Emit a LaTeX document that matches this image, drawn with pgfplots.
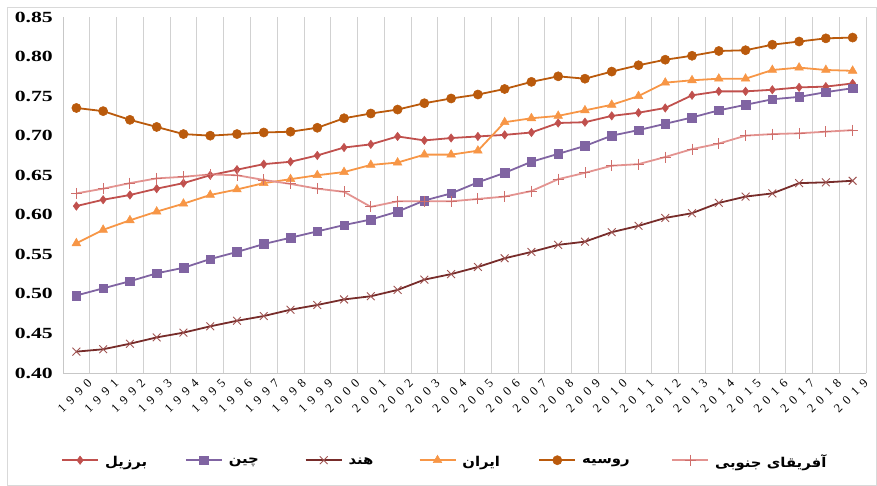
\documentclass[border=0pt]{standalone}
\usepackage{fontspec}
\setmainfont{Liberation Serif}
\newfontfamily\yfont[FakeStretch=1.4]{Liberation Serif}
\newfontfamily\arfont[Script=Arabic,FakeStretch=1.1]{DejaVu Sans}
\usepackage{pgfplots}
\usepackage{pgfplotstable}
\pgfplotsset{compat=1.18}
\TeXXeTstate=1
\definecolor{cbr}{HTML}{C0504D}
\definecolor{cch}{HTML}{8064A2}
\definecolor{cin}{HTML}{772C2A}
\definecolor{cinm}{HTML}{A05553}
\definecolor{cir}{HTML}{F79646}
\definecolor{cru}{HTML}{BA5A0C}
\definecolor{csa}{HTML}{E39390}
\definecolor{csam}{HTML}{CF6E6B}
\newcommand\legfont{\arfont\bfseries\fontsize{13.5}{16}\selectfont}
\newcommand\legent[2]{\makebox[#1pt][l]{\raisebox{-3pt}{\beginR #2\endR}}}
\newcommand\yr[4]{#1\kern5.8pt#2\kern5.8pt#3\kern5.8pt#4}
\pgfplotstableread{
x br ch in ir ru sa
0 0.611 0.498 0.427 0.564 0.735 0.627
1 0.619 0.507 0.430 0.581 0.731 0.633
2 0.625 0.516 0.437 0.593 0.720 0.640
3 0.633 0.526 0.445 0.604 0.711 0.646
4 0.640 0.533 0.451 0.614 0.702 0.648
5 0.650 0.544 0.459 0.625 0.700 0.651
6 0.657 0.553 0.466 0.632 0.702 0.650
7 0.664 0.563 0.472 0.640 0.704 0.644
8 0.667 0.571 0.480 0.645 0.705 0.639
9 0.675 0.579 0.486 0.650 0.710 0.633
10 0.685 0.587 0.493 0.654 0.722 0.629
11 0.689 0.594 0.497 0.663 0.728 0.610
12 0.699 0.604 0.505 0.666 0.733 0.617
13 0.694 0.618 0.518 0.676 0.741 0.617
14 0.697 0.627 0.525 0.676 0.747 0.617
15 0.699 0.641 0.534 0.681 0.752 0.620
16 0.701 0.653 0.545 0.717 0.759 0.623
17 0.704 0.667 0.553 0.722 0.768 0.630
18 0.716 0.677 0.562 0.725 0.775 0.645
19 0.717 0.687 0.566 0.732 0.772 0.653
20 0.725 0.700 0.578 0.739 0.781 0.662
21 0.729 0.707 0.586 0.750 0.789 0.664
22 0.735 0.715 0.596 0.767 0.796 0.673
23 0.751 0.723 0.602 0.770 0.801 0.683
24 0.756 0.732 0.615 0.772 0.807 0.690
25 0.756 0.739 0.623 0.772 0.808 0.700
26 0.758 0.746 0.627 0.783 0.815 0.702
27 0.761 0.749 0.640 0.786 0.819 0.703
28 0.762 0.755 0.641 0.783 0.823 0.705
29 0.766 0.760 0.643 0.782 0.824 0.707
}\datatable
\begin{document}
\begin{tikzpicture}
\path[use as bounding box] (0,0) rectangle (877pt,486pt);
\draw[black!15, line width=0.8pt] (7pt,0.5pt) rectangle (876.5pt,479pt);
\begin{axis}[
  at={(63pt,113pt)}, anchor=south west,
  scale only axis, width=803pt, height=356pt,
  xmin=-0.5, xmax=29.5, ymin=0.40, ymax=0.85,
  clip=false,
  axis x line*=bottom, axis y line*=left,
  axis line style={black!22, line width=0.8pt},
  xtick={0,...,29},
  xticklabels={\yr1990,\yr1991,\yr1992,\yr1993,\yr1994,\yr1995,\yr1996,\yr1997,\yr1998,\yr1999,\yr2000,\yr2001,\yr2002,\yr2003,\yr2004,\yr2005,\yr2006,\yr2007,\yr2008,\yr2009,\yr2010,\yr2011,\yr2012,\yr2013,\yr2014,\yr2015,\yr2016,\yr2017,\yr2018,\yr2019},
  minor xtick={-0.5,0.5,...,29.5},
  xminorgrids=true, xmajorgrids=false,
  minor x grid style={black!18, line width=0.8pt},
  major tick length=0pt, minor tick length=0pt,
  ytick={0.40,0.45,0.50,0.55,0.60,0.65,0.70,0.75,0.80,0.85},
  yticklabels={0.40,0.45,0.50,0.55,0.60,0.65,0.70,0.75,0.80,0.85},
  yticklabel style={font=\yfont\bfseries\fontsize{15.5}{17}\selectfont, anchor=east, inner sep=0pt, xshift=-10pt},
  xticklabel style={font=\fontsize{12.5}{14}\selectfont, rotate=45, anchor=east, inner sep=0pt, xshift=4pt, yshift=-15pt},
  legend image code/.code={\draw[mark repeat=2,mark phase=2,#1] plot coordinates {(0pt,0pt) (18pt,0pt) (36pt,0pt)};},
  legend columns=6,
  legend style={at={(axis description cs:0,-0.245)}, anchor=west, xshift=-2pt, draw=none, fill=none, inner sep=0pt, font=\legfont,
    nodes={inner sep=0pt},
    /tikz/every odd column/.append style={column sep=6pt},
    /tikz/every even column/.append style={column sep=0pt}},
  every axis plot/.append style={line width=1.8pt},
]
\addplot[color=cbr, mark=diamond*, mark size=4.2pt, mark options={solid, line width=0.5pt}] table[x=x,y=br] {\datatable};
\addlegendentry{\legent{80}{برزیل}}
\addplot[color=cch, mark=square*, mark size=4.3pt, mark options={solid, line width=0.5pt}] table[x=x,y=ch] {\datatable};
\addlegendentry{\legent{76}{چین}}
\addplot[color=cin, mark=x, mark size=5.5pt, mark options={solid, draw=cinm, line width=0.9pt}] table[x=x,y=in] {\datatable};
\addlegendentry{\legent{70}{هند}}
\addplot[color=cir, mark=triangle*, mark size=5pt, mark options={solid, line width=0.5pt}] table[x=x,y=ir] {\datatable};
\addlegendentry{\legent{76}{ایران}}
\addplot[color=cru, mark=*, mark size=4.6pt, mark options={solid, line width=0.5pt}] table[x=x,y=ru] {\datatable};
\addlegendentry{\legent{89}{روسیه}}
\addplot[color=csa, mark=+, mark size=5.5pt, mark options={solid, draw=csam, line width=0.9pt}] table[x=x,y=sa] {\datatable};
\addlegendentry{\raisebox{-3pt}{\beginR آفریقای جنوبی\endR}}
\end{axis}
\end{tikzpicture}
\end{document}
